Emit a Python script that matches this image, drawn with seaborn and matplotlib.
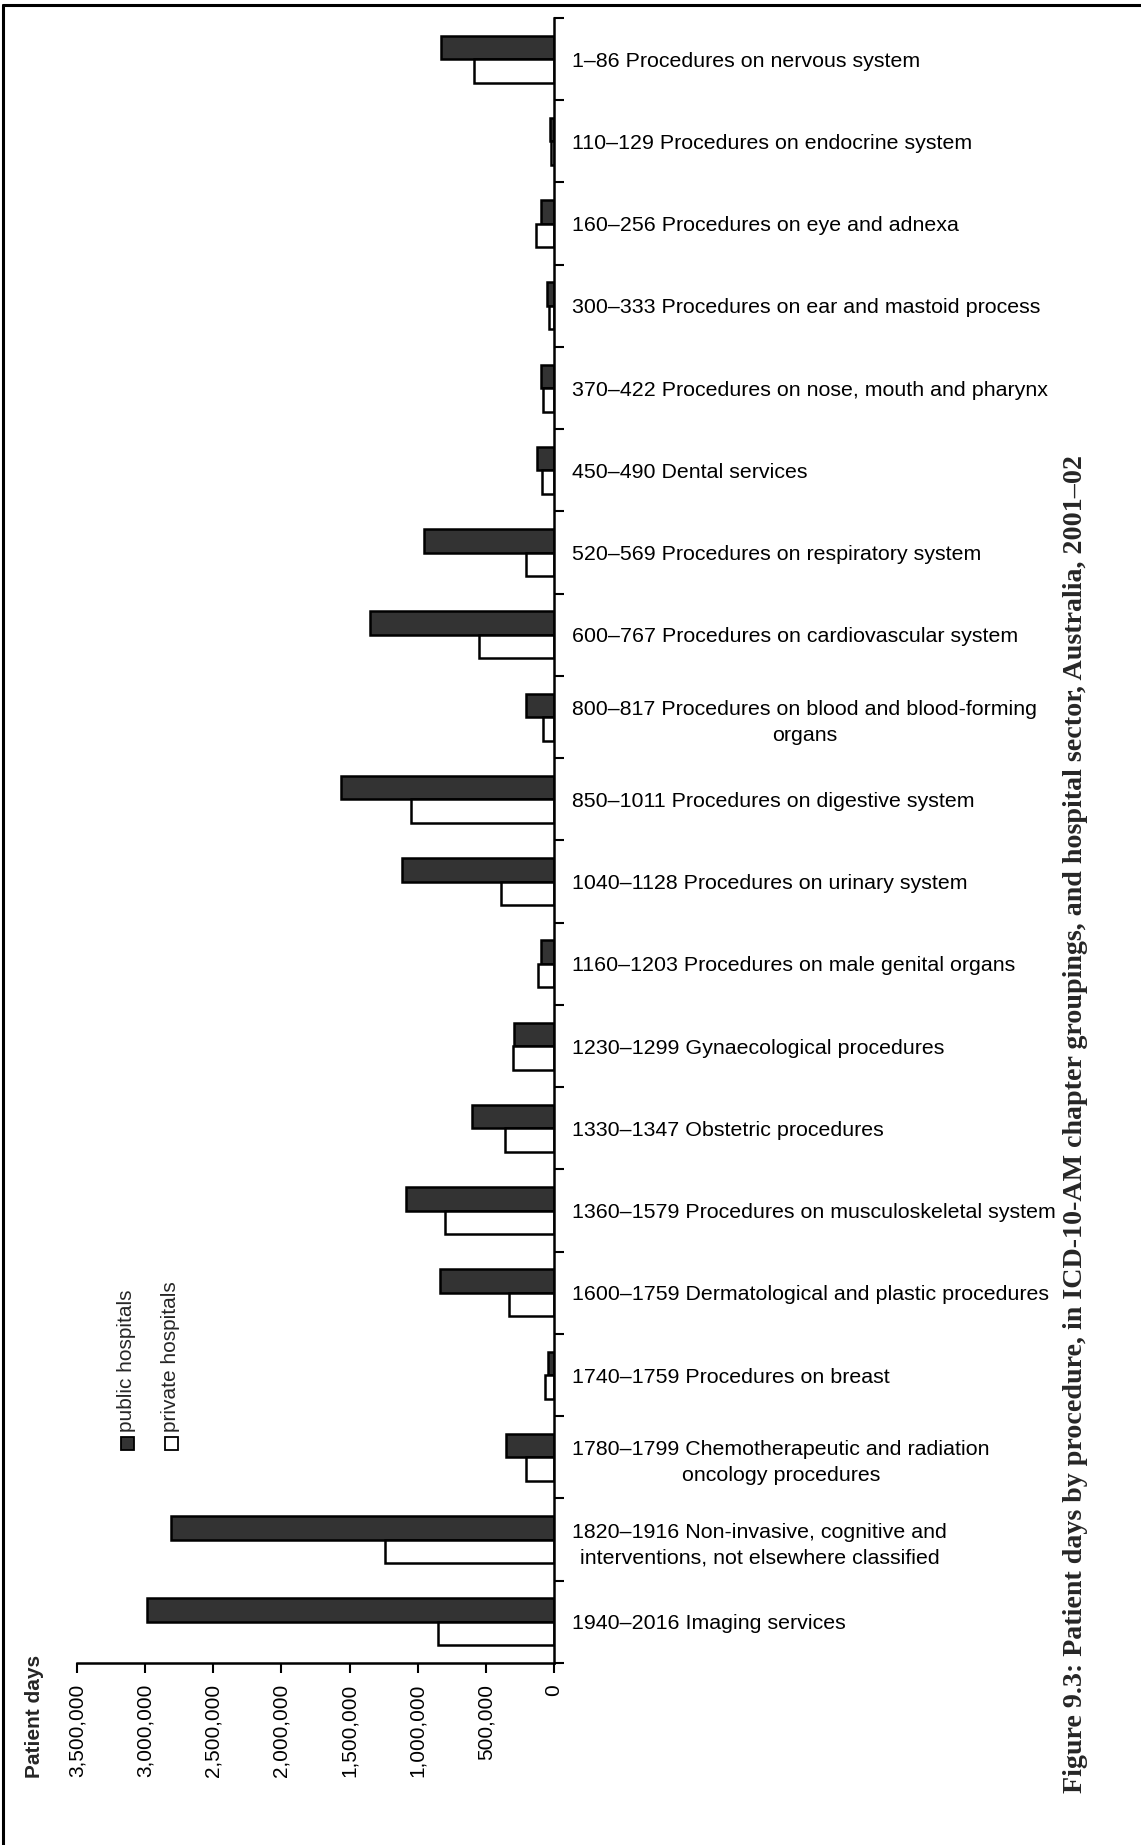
import pandas as pd
import matplotlib.pyplot as plt
import seaborn as sns
from matplotlib.lines import Line2D
from matplotlib.patches import Rectangle
from matplotlib.ticker import FuncFormatter, MultipleLocator

# Categories (ICD-10-AM chapter groupings)
procedures = [
    '1\u201386 Procedures on nervous system',
    '110\u2013129 Procedures on endocrine system',
    '160\u2013256 Procedures on eye and adnexa',
    '300\u2013333 Procedures on ear and mastoid process',
    '370\u2013422 Procedures on nose, mouth and pharynx',
    '450\u2013490 Dental services',
    '520\u2013569 Procedures on respiratory system',
    '600\u2013767 Procedures on cardiovascular system',
    '800\u2013817 Procedures on blood and blood-forming\norgans',
    '850\u20131011 Procedures on digestive system',
    '1040\u20131128 Procedures on urinary system',
    '1160\u20131203 Procedures on male genital organs',
    '1230\u20131299 Gynaecological procedures',
    '1330\u20131347 Obstetric procedures',
    '1360\u20131579 Procedures on musculoskeletal system',
    '1600\u20131759 Dermatological and plastic procedures',
    '1740\u20131759 Procedures on breast',
    '1780\u20131799 Chemotherapeutic and radiation\noncology procedures',
    '1820\u20131916 Non-invasive, cognitive and\ninterventions, not elsewhere classified',
    '1940\u20132016 Imaging services',
]

# patient days
public = [828000, 29000, 98000, 49000, 98000, 122000, 957000, 1353000, 203000,
          1560000, 1112000, 98000, 293000, 603000, 1086000, 836000, 46000,
          353000, 2810000, 2983000]
private = [586000, 20000, 134000, 34000, 81000, 88000, 207000, 552000, 81000,
           1052000, 388000, 120000, 302000, 362000, 802000, 328000, 64000,
           207000, 1241000, 853000]

sectors = ['public hospitals', 'private hospitals']
value_ticks = [0, 500000, 1000000, 1500000, 2000000, 2500000, 3000000, 3500000]

df = pd.DataFrame({
    'procedure': procedures * 2,
    'days': public + private,
    'sector': [sectors[0]] * len(procedures) + [sectors[1]] * len(procedures),
})

sns.set_theme(style='white')
plt.rcParams['font.family'] = ['Liberation Sans', 'DejaVu Sans']

W, H = 1141, 1845
fig = plt.figure(figsize=(W / 100, H / 100), dpi=100)
ax = fig.add_axes([77 / W, 1 - 1663 / H, (554 - 77) / W, (1663 - 18) / H])

sns.barplot(data=df, y='procedure', x='days', hue='sector', orient='h',
            hue_order=sectors, order=procedures,
            palette={sectors[0]: '#333333', sectors[1]: 'white'},
            edgecolor='black', linewidth=1.8, width=0.57, saturation=1,
            legend=False, ax=ax)

ax.set_xlim(3500000, 0)
ax.set_ylim(len(procedures) - 0.5, -0.5)

# value axis
ax.set_xticks(value_ticks)
ax.xaxis.set_major_formatter(FuncFormatter(lambda v, p: f'{int(v):,}'))
ax.tick_params(axis='x', direction='out', length=7, width=1.5, color='black',
               labelsize=15, labelcolor='black', rotation=90, pad=8, bottom=True)
for lab in ax.get_xticklabels():
    lab.set_va('top')
    lab.set_ha('center')

# category axis on the right
ax.yaxis.tick_right()
ax.set_yticks(range(len(procedures)))
ax.set_yticklabels(procedures)
ax.yaxis.set_minor_locator(MultipleLocator(1, offset=0.5))
ax.tick_params(axis='y', which='major', length=0, labelsize=15.4, pad=13,
               labelcolor='black')
ax.tick_params(axis='y', which='minor', direction='out', length=7, width=1.5,
               color='black', right=True, left=False)
for lab in ax.get_yticklabels():
    lab.set_multialignment('center')
    lab.set_linespacing(1.45)

ax.set_xlabel('')
ax.set_ylabel('')
for s in ['top', 'left']:
    ax.spines[s].set_visible(False)
for s in ['right', 'bottom']:
    ax.spines[s].set_color('black')
    ax.spines[s].set_linewidth(1.8)

fig.text(35 / W, 1 - 1655 / H, 'Patient days', rotation=90, fontsize=15,
         fontweight='bold', ha='center', va='top')

# legend drawn by hand, rotated like the rest of the page
leg_x = [127, 171]
for lx, name, fc in zip(leg_x, sectors, ['#333333', 'white']):
    fig.add_artist(Rectangle(((lx - 6.5) / W, 1 - 1450 / H), 13 / W, 13 / H,
                             transform=fig.transFigure, facecolor=fc,
                             edgecolor='black', linewidth=1.3))
    fig.text(lx / W, 1 - 1432 / H, name, rotation=90, fontsize=15,
             ha='center', va='bottom')

fig.text(1075 / W, 1 - 1793 / H,
         'Figure 9.3: Patient days by procedure, in ICD-10-AM chapter groupings, '
         'and hospital sector, Australia, 2001\u201302',
         rotation=90, fontsize=20.2, fontweight='bold',
         family=['Liberation Serif', 'DejaVu Serif'], ha='center', va='bottom')

# page frame (top and left rules)
fig.add_artist(Line2D([3 / W, 1], [1 - 5 / H, 1 - 5 / H], transform=fig.transFigure,
                      color='black', linewidth=2.2))
fig.add_artist(Line2D([3 / W, 3 / W], [0, 1 - 5 / H], transform=fig.transFigure,
                      color='black', linewidth=2.2))

fig.savefig('out.png', dpi=100)
